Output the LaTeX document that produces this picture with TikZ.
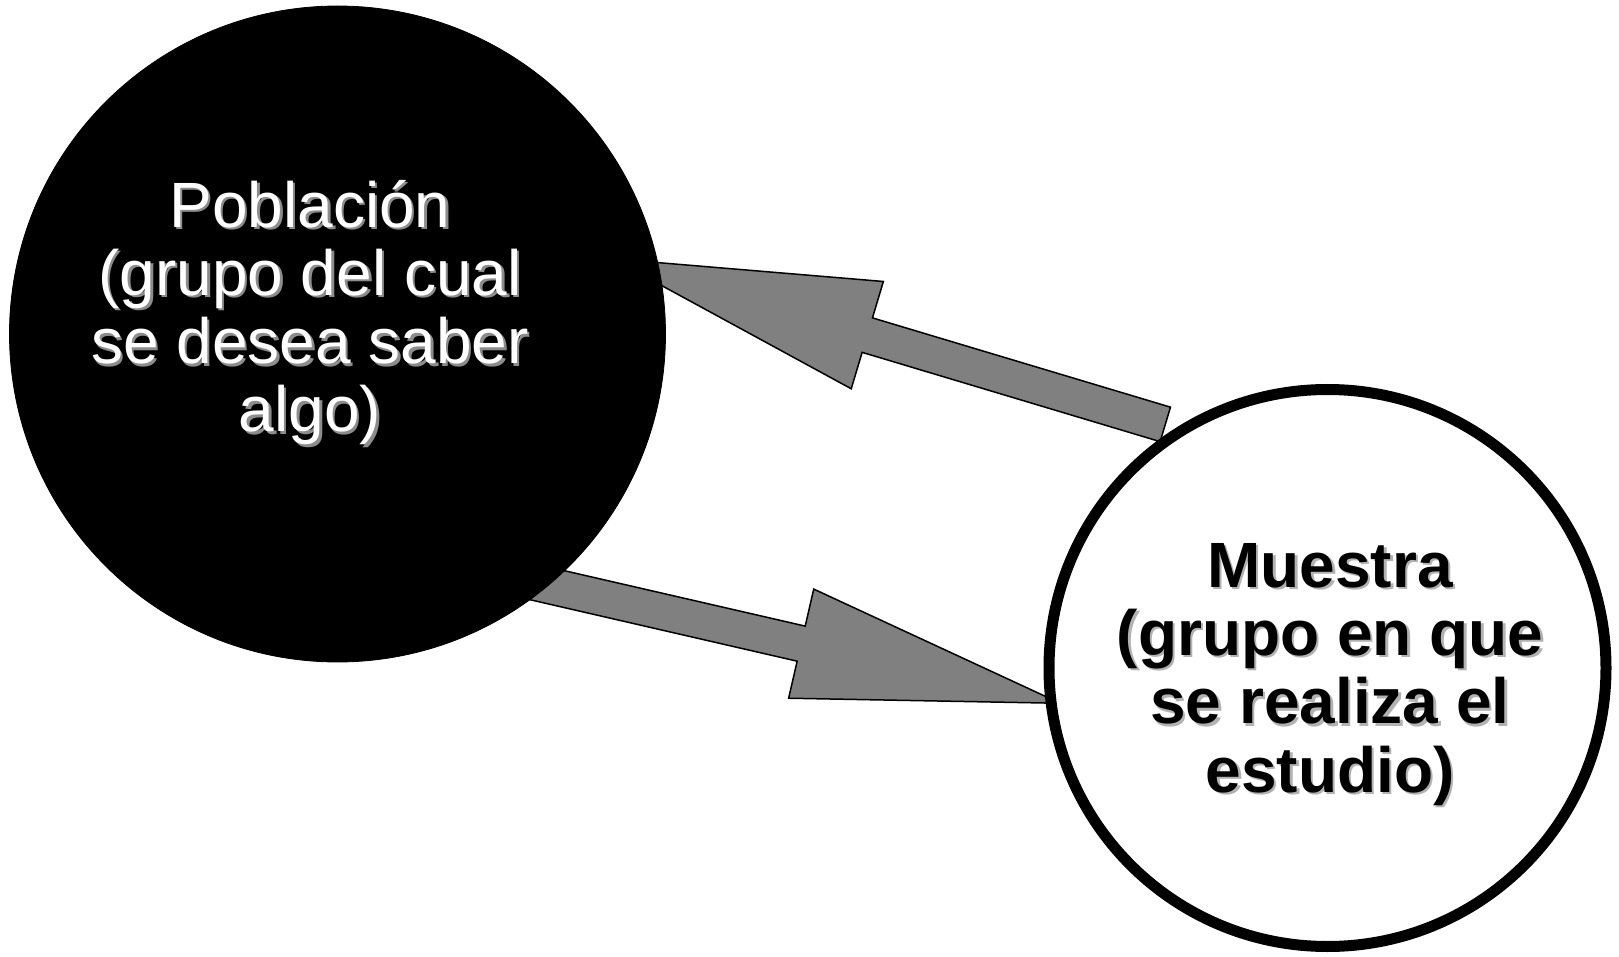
\documentclass[tikz,border=0pt]{standalone}
\usepackage{fontspec}
\setmainfont{Liberation Sans}
\usetikzlibrary{calc}
\definecolor{arrgray}{HTML}{808080}
\tikzset{
  arr/.style={fill=arrgray, draw=black, line width=0.75pt, line join=miter},
  popcirc/.style={circle, fill=black, draw=black, inner sep=0pt, minimum size=328pt},
  muecirc/.style={circle, fill=white, draw=black, line width=5.5pt, inner sep=0pt, minimum size=278.5pt},
  poptext/.style={align=center, text=white, font=\fontsize{32}{34.15}\selectfont, anchor=base, inner sep=0pt},
  muetext/.style={align=center, text=black, font=\bfseries\fontsize{32}{34.15}\selectfont, anchor=base, inner sep=0pt},
}
\begin{document}
\begin{tikzpicture}[x=0.5pt,y=-0.5pt]
\useasboundingbox (0,0) rectangle (1619,957);
% arrow end points
\coordinate (t1) at (1165.3,424.4);
\coordinate (h1) at (612.5,258.8);
\coordinate (t2) at (498.1,573.9);
\coordinate (h2) at (1060.4,703.3);
\coordinate (b1) at ($(h1)!133pt!(t1)$);
\coordinate (b2) at ($(h2)!133pt!(t2)$);
% block arrows
\draw[arr] (h1) -- ($(b1)!28pt!90:(h1)$) -- ($(b1)!9pt!90:(h1)$) -- ($(t1)!9pt!90:(h1)$)
  -- ($(t1)!9pt!-90:(h1)$) -- ($(b1)!9pt!-90:(h1)$) -- ($(b1)!28pt!-90:(h1)$) -- cycle;
\draw[arr] (h2) -- ($(b2)!28pt!90:(h2)$) -- ($(b2)!9pt!90:(h2)$) -- ($(t2)!9pt!90:(h2)$)
  -- ($(t2)!9pt!-90:(h2)$) -- ($(b2)!9pt!-90:(h2)$) -- ($(b2)!28pt!-90:(h2)$) -- cycle;
% circles
\node[popcirc] (pop) at (337.5,334) {};
\node[muecirc] (mue) at (1327.5,668) {};
% texts (anchor base = last line)
\node[poptext, text=black!45] (popshadow) at (312.5,434.5) {Población\\(grupo del cual\\se desea saber\\algo)};
\node[poptext] (poplabel) at (310,432) {Población\\(grupo del cual\\se desea saber\\algo)};
\node[muetext, text=black!30] (mueshadow) at (1332.5,794.5) {Muestra\\(grupo en que\\se realiza el\\estudio)};
\node[muetext] (muelabel) at (1330,792) {Muestra\\(grupo en que\\se realiza el\\estudio)};
\end{tikzpicture}
\end{document}
